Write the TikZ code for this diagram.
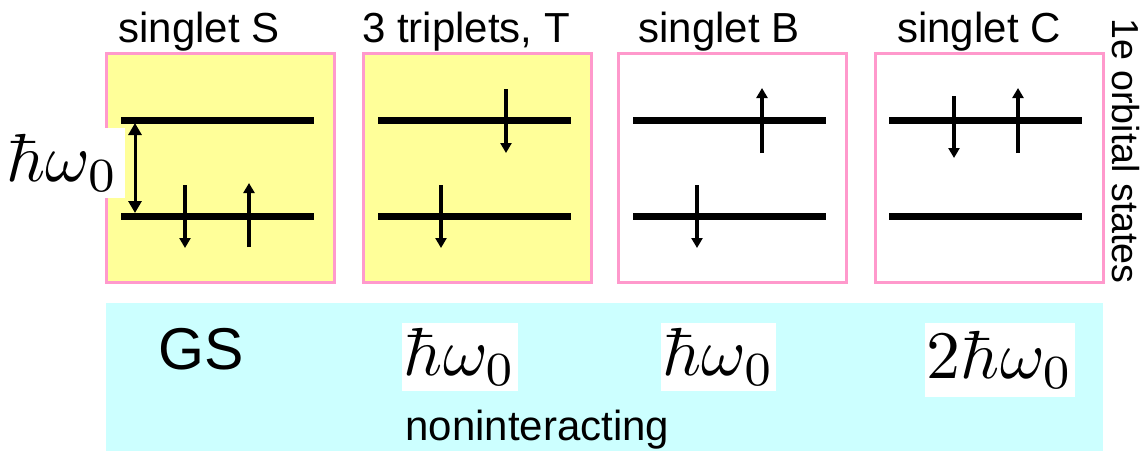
\documentclass[tikz,border=0pt]{standalone}
\usepackage[no-math]{fontspec}
\newfontfamily\arial{Liberation Sans}
\usetikzlibrary{arrows.meta}
\definecolor{pinkb}{RGB}{255,153,204}
\definecolor{yel}{RGB}{255,255,153}
\definecolor{cyn}{RGB}{204,255,255}
\tikzset{
  statebox/.style={draw=pinkb, line width=1.5pt, minimum width=114pt, minimum height=114.5pt, inner sep=0pt},
  level/.style={line width=3.5pt},
  spin/.style={line width=2pt, -{Triangle[width=5.5pt,length=5pt]}},
  gap/.style={line width=1.5pt, {Triangle[width=6.5pt,length=6pt]}-{Triangle[width=6.5pt,length=6pt]}},
  title/.style={font=\arial\fontsize{21}{24}\selectfont, anchor=base, inner sep=0pt},
  mathlbl/.style={fill=white, inner sep=0pt},
}
\newcommand{\twolevels}{%
  \draw[level] (16,120) -- (209,120);
  \draw[level] (16,216) -- (209,216);}
\newcommand{\hugemath}[1]{\scalebox{3.4}{$#1$}}
\begin{document}
\begin{tikzpicture}[x=0.5pt,y=-0.5pt]
\useasboundingbox (0,0) rectangle (1142,451);
% state boxes
\node[statebox, fill=yel] (S) at (220,167.5) {};
\node[statebox, fill=yel] (T) at (477,167.5) {};
\node[statebox, fill=white] (B) at (732,167.5) {};
\node[statebox, fill=white] (C) at (989,167.5) {};
% titles
\node[title] (tS) at (199,42) {singlet S};
\node[title] (tT) at (466,42) {3 triplets, T};
\node[title] (tB) at (719,42) {singlet B};
\node[title] (tC) at (979,42) {singlet C};
% singlet S
\begin{scope}[shift={(105,0)}]
  \twolevels
  \draw[spin] (80,185) -- (80,248);
  \draw[spin] (144,247) -- (144,183);
\end{scope}
% triplets T
\begin{scope}[shift={(362,0)}]
  \twolevels
  \draw[spin] (144,89) -- (144,153);
  \draw[spin] (79,185) -- (79,248);
\end{scope}
% singlet B
\begin{scope}[shift={(617,0)}]
  \twolevels
  \draw[spin] (145,153) -- (145,88);
  \draw[spin] (80,185) -- (80,248);
\end{scope}
% singlet C
\begin{scope}[shift={(873,0)}]
  \twolevels
  \draw[spin] (81,96) -- (81,158);
  \draw[spin] (145,153) -- (145,88);
\end{scope}
% level spacing label
\node[mathlbl, minimum width=62.5pt, minimum height=35pt] (hw) at (62.5,163) {\hugemath{\hbar\omega_0}};
\coordinate (gtop) at (135,123);
\coordinate (gbot) at (135,213);
\draw[gap] (gtop) -- (gbot);
% side label
\node[font=\arial\fontsize{18.8}{22}\selectfont, rotate=-90, inner sep=0pt] (orb) at (1126,151) {1e orbital states};
% energies
\node[fill=cyn, minimum width=498.5pt, minimum height=74pt, inner sep=0pt] (E) at (604.5,377) {};
\node[font=\arial\fontsize{29.5}{33}\selectfont, anchor=base, inner sep=0pt] (GS) at (201,369) {GS};
\node[mathlbl, minimum width=58pt, minimum height=34pt] (eT) at (460,357) {\hugemath{\hbar\omega_0}};
\node[mathlbl, minimum width=57.5pt, minimum height=34pt] (eB) at (718.5,357) {\hugemath{\hbar\omega_0}};
\node[mathlbl, minimum width=75pt, minimum height=37pt] (eC) at (1000,360) {\hugemath{2\hbar\omega_0}};
\node[font=\arial\fontsize{21}{24}\selectfont, anchor=base west, inner sep=0pt] (ni) at (405,440) {noninteracting};
\end{tikzpicture}
\end{document}
